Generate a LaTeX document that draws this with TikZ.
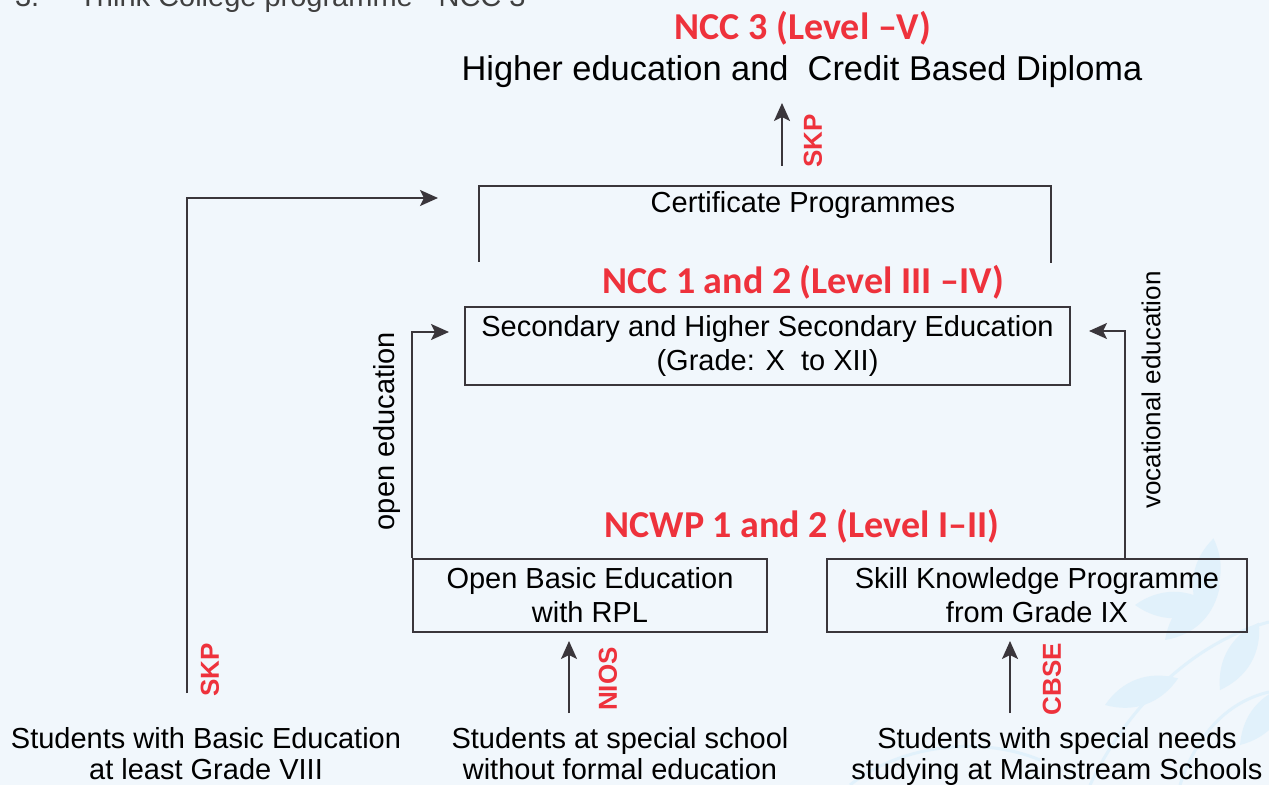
\documentclass[tikz,border=0pt]{standalone}
\usepackage{fontspec}
\setmainfont{Liberation Sans}
\newfontfamily\calibrifont{Carlito}
\usetikzlibrary{arrows.meta}
\definecolor{linegray}{RGB}{58,54,59}
\definecolor{levelred}{RGB}{238,50,60}
\definecolor{paper}{RGB}{241,247,252}
\definecolor{leafblue}{RGB}{225,241,251}
\newcommand\bodyfont{\fontsize{14.5}{17}\selectfont}
\begin{document}
\begin{tikzpicture}[
            x=0.5pt, y=-0.5pt,
            line/.style={draw=linegray, line width=1pt},
            arr/.style={line, -{Stealth[length=9pt, width=8pt, inset=2pt]}},
            box/.style={draw=linegray, line width=1pt, align=center, inner sep=0pt, font=\bodyfont},
            plain/.style={align=center, font=\bodyfont},
            bottomtext/.style={align=center, text depth=3.5pt, font=\fontsize{14.5}{15.5}\selectfont},
            level/.style={text=levelred, font=\calibrifont\bfseries\fontsize{19}{21}\selectfont},
            tag/.style={text=levelred, rotate=90, font=\bfseries\fontsize{13}{15}\selectfont},
            route/.style={rotate=90, font=\fontsize{14.5}{16}\selectfont},
            leaf/.style={fill=leafblue},
            stem/.style={draw=leafblue, line width=1.5pt}
        ]

        \clip (0,0) rectangle (1269,785);
        \fill[paper] (0,0) rectangle (1269,785);
        \draw[stem] (1090,785) .. controls (1130,700) and (1200,640) .. (1269,622);
        \draw[stem] (1180,785) .. controls (1200,725) and (1235,700) .. (1269,692);
        \draw[stem] (850,785) .. controls (900,745) and (980,735) .. (1040,760);
        \foreach \lx/\ly/\ang in {1165/640/0, 1200/615/35, 1135/605/-45, 1220/690/15, 1105/705/-25, 1240/745/5} {
            \fill[leaf, shift={(\lx,\ly)}, rotate=\ang] (0,0) .. controls (5,-30) and (25,-50) .. (55,-55) .. controls (50,-25) and (30,-5) .. (0,0);
        }

        \node[anchor=base west, text=black!75, font=\bodyfont] (heading) at (8,7) {3.\hspace{20pt}Think College programme - NCC 3};

        \node[level] (ncc3) at (803,28) {NCC 3 (Level –V)};
        \node[plain, font=\fontsize{17.2}{20}\selectfont] (diploma) at (802,72) {Higher education and\ \ Credit Based Diploma};
        \node[plain] (cert) at (803,205) {Certificate Programmes};
        \node[level] (ncc12) at (803,282) {NCC 1 and 2 (Level III –IV)};
        \node[box, minimum width=302.5pt, minimum height=39pt] (second) at (767.5,346) {Secondary and Higher Secondary Education\\(Grade: X\ \ to XII)};
        \node[level] (ncwp) at (802,526) {NCWP 1 and 2 (Level I–II)};
        \node[box, minimum width=177pt, minimum height=36.5pt] (open) at (590,595.5) {Open Basic Education\\with RPL};
        \node[box, minimum width=210pt, minimum height=36.5pt] (skill) at (1037,595.5) {Skill Knowledge Programme\\from Grade IX};

        \node[bottomtext] (basic) at (206,757) {Students with Basic Education\\at least Grade VIII};
        \node[bottomtext] (special) at (620,757) {Students at special school\\without formal education};
        \node[bottomtext] (needs) at (1057,757) {Students with special needs\\studying at Mainstream Schools};

        \node[tag] (skptop) at (813,141) {SKP};
        \node[tag] (skpleft) at (210,670) {SKP};
        \node[tag] (nios) at (608,679) {NIOS};
        \node[tag] (cbse) at (1052,679) {CBSE};
        \node[route] (openedu) at (387,431) {open education};
        \node[route, font=\fontsize{13}{15}\selectfont] (vocedu) at (1151,390) {vocational education};

        \coordinate (certfoot) at (782,166);
        \coordinate (diplomafoot) at (782,103);
        \coordinate (skpfoot) at (187,693);
        \coordinate (certin) at (438,198);
        \coordinate (niosfoot) at (569,713);
        \coordinate (cbsefoot) at (1010,713);

        \draw[line] (479,262) |- (1051,186) -- (1051,263);
        \draw[arr] (certfoot) -- (diplomafoot);
        \draw[arr] (skpfoot) |- (certin);
        \draw[arr] (open.north west) |- ([xshift=-7.5pt, yshift=7pt]second.west);
        \draw[arr] ([xshift=44pt]skill.north) |- ([xshift=9pt, yshift=7.5pt]second.east);
        \draw[arr] (niosfoot) -- ([yshift=-4pt]niosfoot |- open.south);
        \draw[arr] (cbsefoot) -- ([yshift=-4pt]cbsefoot |- skill.south);
    \end{tikzpicture}
\end{document}
